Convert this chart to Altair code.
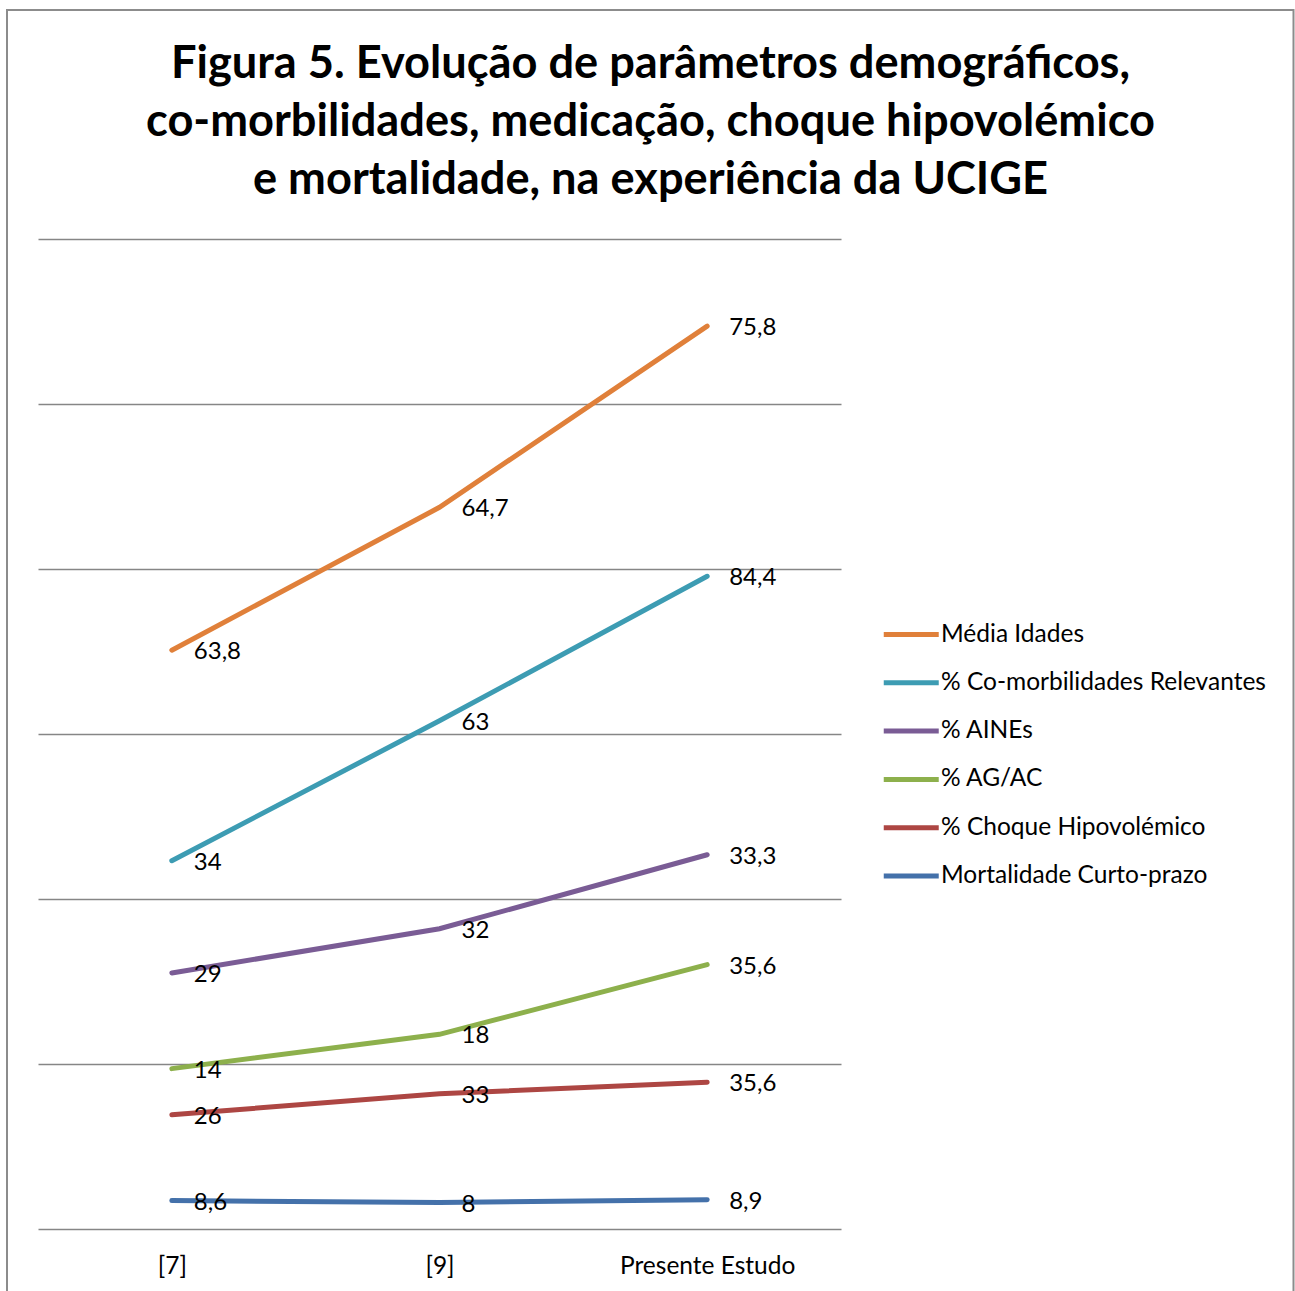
import altair as alt
import pandas as pd

categories = ["[7]", "[9]", "Presente Estudo"]
series = [
    "Média Idades",
    "% Co-morbilidades Relevantes",
    "% AINEs",
    "% AG/AC",
    "% Choque Hipovolémico",
    "Mortalidade Curto-prazo",
]
colors = ["#E0803A", "#3D9CB3", "#7A5C95", "#8DB04C", "#AD4643", "#4471AA"]

media_idades = [63.8, 64.7, 75.8]
comorbilidades = [34, 63, 84.4]
aines = [29, 32, 33.3]
ag_ac = [14, 18, 35.6]
choque = [26, 33, 35.6]
mortalidade = [8.6, 8, 8.9]

values = [media_idades, comorbilidades, aines, ag_ac, choque, mortalidade]

rows = []
for s_i, (name, vals) in enumerate(zip(series, values)):
    for c, v in zip(categories, vals):
        rows.append({
            "categoria": c,
            "serie": name,
            "valor": v,
            "ordem": len(series) - s_i,
            "rotulo": (f"{v:g}").replace(".", ","),
        })
df = pd.DataFrame(rows)

FONT = "Lato"

x_enc = alt.X("categoria:N", sort=categories,
              scale=alt.Scale(type="point", padding=0.5),
              axis=alt.Axis(title=None, labelAngle=0, ticks=False, domain=False,
                            labelFontSize=24.5, labelPadding=25, labelColor="#000000",
                            labelFont=FONT, grid=False))
y_enc = alt.Y("valor:Q", stack="zero",
              scale=alt.Scale(domain=[0, 300], nice=False),
              axis=alt.Axis(title=None, labels=False, ticks=False, domain=False,
                            values=[0, 50, 100, 150, 200, 250, 300],
                            grid=True, gridColor="#868686", gridWidth=1.5))

color_enc = alt.Color("serie:N",
                      scale=alt.Scale(domain=series, range=colors),
                      legend=alt.Legend(title=None, orient="none",
                                        legendX=843, legendY=379,
                                        symbolType="M-1,0H3", symbolSize=756,
                                        symbolStrokeWidth=5, symbolFillColor="transparent",
                                        labelFontSize=24.5, labelFont=FONT, labelColor="#000000",
                                        labelOffset=27, labelLimit=600, rowPadding=20.3))

lines = alt.Chart(df).mark_line(strokeWidth=5, strokeCap="round").encode(
    x=x_enc, y=y_enc, color=color_enc, order=alt.Order("ordem:Q")
)

labels = alt.Chart(df).mark_text(align="left", baseline="middle", dx=22, dy=2,
                                 fontSize=24, font=FONT, color="#000000").encode(
    x=alt.X("categoria:N", sort=categories, scale=alt.Scale(type="point", padding=0.5)),
    y=alt.Y("valor:Q", stack="zero"),
    text="rotulo:N",
    order=alt.Order("ordem:Q"),
    detail="serie:N",
)

frame = alt.Chart(pd.DataFrame({"f": [0]})).mark_rect(
    fill="transparent", stroke="#8C8C8C", strokeWidth=2
).encode(x=alt.value(-31), x2=alt.value(1255.5), y=alt.value(-229), y2=alt.value(1070))

chart = alt.layer(frame, lines, labels).properties(
    width=803, height=990,
    autosize=alt.AutoSizeParams(type="none"),
    padding={"left": 38, "top": 239, "right": 454, "bottom": 62},
    title=alt.TitleParams(
        text=["Figura 5. Evolução de parâmetros demográficos,",
              "co-morbilidades, medicação, choque hipovolémico",
              "e mortalidade, na experiência da UCIGE"],
        font=FONT, fontSize=45.2, fontWeight="bold", color="#000000",
        anchor="middle", frame="group", dx=211, offset=-194, lineHeight=58),
).configure(background="#ffffff").configure_view(stroke="transparent", strokeWidth=0)

chart.save("out.html", embed_options={"renderer": "svg", "actions": False})
